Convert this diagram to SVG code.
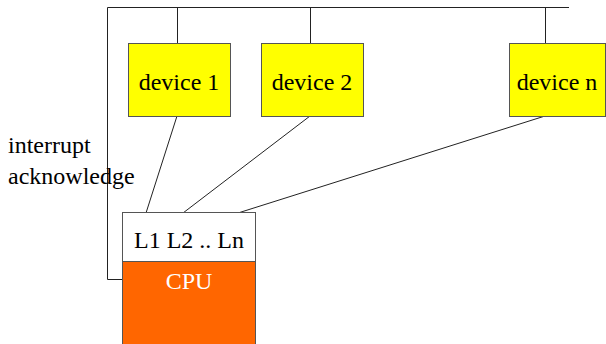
<svg xmlns="http://www.w3.org/2000/svg" width="606" height="344" viewBox="0 0 606 344">
<style>
.dev{fill:#ffff00;stroke:#555;stroke-width:1}
.t{font-family:"Liberation Serif",serif;font-size:24px;fill:#000}
.ln{stroke:#222;stroke-width:1;fill:none}
</style>
<rect width="606" height="344" fill="#fff"/>
<g id="connectors">
<polyline class="ln" points="569,7.5 107.5,7.5 107.5,279.5 122,279.5"/>
<line class="ln" x1="177.5" y1="7" x2="177.5" y2="43"/>
<line class="ln" x1="310.5" y1="7" x2="310.5" y2="43"/>
<line class="ln" x1="545.5" y1="7" x2="545.5" y2="43"/>
<line class="ln" x1="177" y1="116" x2="146" y2="213"/>
<line class="ln" x1="310" y1="116" x2="183" y2="213"/>
<line class="ln" x1="545" y1="116" x2="238" y2="213"/>
</g>
<g id="device1">
<rect class="dev" x="128.5" y="43.5" width="102" height="73"/>
<text class="t" x="179" y="90" text-anchor="middle">device 1</text>
</g>
<g id="device2">
<rect class="dev" x="261.5" y="43.5" width="102" height="73"/>
<text class="t" x="312" y="90" text-anchor="middle">device 2</text>
</g>
<g id="devicen">
<rect class="dev" x="509.5" y="43.5" width="96" height="73"/>
<text class="t" x="557" y="90" text-anchor="middle">device n</text>
</g>
<g id="cpu">
<rect x="122.5" y="212.5" width="133" height="49" fill="#fff" stroke="#555"/>
<rect x="122.5" y="261.5" width="133" height="90" fill="#ff6600" stroke="#555"/>
<text class="t" x="189" y="248" text-anchor="middle">L1 L2 .. Ln</text>
<text class="t" x="189" y="289" text-anchor="middle" style="fill:#fff">CPU</text>
</g>
<g id="label">
<text class="t" x="8" y="153">interrupt</text>
<text class="t" x="8" y="184">acknowledge</text>
</g>
</svg>
